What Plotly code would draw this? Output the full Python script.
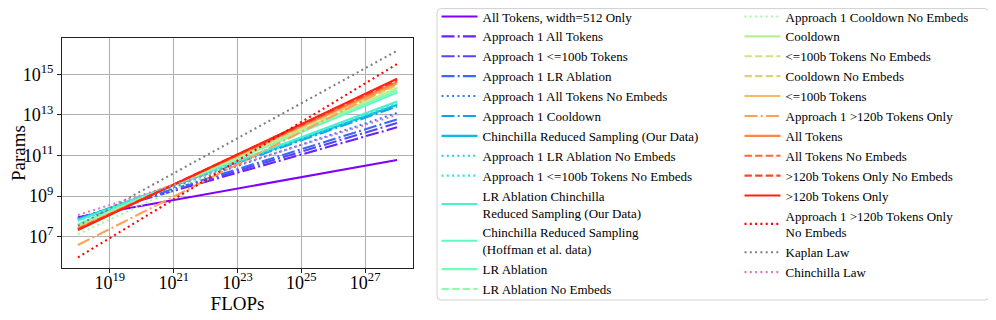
import numpy as np
import plotly.graph_objects as go

# FLOPs range spanned by every fitted line
flops = [1e18, 1e28]

names = [
    "All Tokens, width=512 Only",
    "Approach 1 All Tokens",
    "Approach 1 <=100b Tokens",
    "Approach 1 LR Ablation",
    "Approach 1 All Tokens No Embeds",
    "Approach 1 Cooldown",
    "Chinchilla Reduced Sampling (Our Data)",
    "Approach 1 LR Ablation No Embeds",
    "Approach 1 <=100b Tokens No Embeds",
    "LR Ablation Chinchilla<br>Reduced Sampling (Our Data)",
    "Chinchilla Reduced Sampling<br>(Hoffman et al. data)",
    "LR Ablation",
    "LR Ablation No Embeds",
    "Approach 1 Cooldown No Embeds",
    "Cooldown",
    "<=100b Tokens No Embeds",
    "Cooldown No Embeds",
    "<=100b Tokens",
    "Approach 1 >120b Tokens Only",
    "All Tokens",
    "All Tokens No Embeds",
    ">120b Tokens Only No Embeds",
    ">120b Tokens Only",
    "Approach 1 >120b Tokens Only<br>No Embeds",
    "Kaplan Law",
    "Chinchilla Law",
]

styles = [
    "solid", "dashdot", "dashdot", "dashdot", "dot", "dashdot", "solid", "dot",
    "dot", "solid", "solid", "solid", "dash", "dot", "solid", "dash", "dash",
    "solid", "dashdot", "solid", "dash", "dash", "solid", "dot", "dot", "dot",
]

# log10(params) at 1e18 and at 1e28 FLOPs
log_params_start = [
    7.96, 7.92, 7.90, 7.88, 7.88, 7.85, 7.85, 7.80, 7.82, 7.80, 7.62, 7.56, 7.50,
    7.13, 7.50, 7.46, 7.45, 7.42, 6.59, 7.40, 7.38, 7.36, 7.33, 5.98, 7.54, 8.07,
]
log_params_end = [
    10.78, 12.39, 12.60, 12.78, 13.10, 13.42, 13.50, 13.55, 13.58, 13.66, 14.10,
    14.20, 14.28, 14.35, 14.32, 14.45, 14.50, 14.55, 14.55, 14.62, 14.68, 14.73,
    14.78, 15.51, 16.16, 13.00,
]

x_ticks = [1e19, 1e21, 1e23, 1e25, 1e27]
x_labels = ["10<sup>19</sup>", "10<sup>21</sup>", "10<sup>23</sup>", "10<sup>25</sup>", "10<sup>27</sup>"]
y_ticks = [1e7, 1e9, 1e11, 1e13, 1e15]
y_labels = ["10<sup>7</sup>", "10<sup>9</sup>", "10<sup>11</sup>", "10<sup>13</sup>", "10<sup>15</sup>"]


def rainbow(t):
    r = min(1.0, abs(2 * t - 0.5))
    g = np.sin(np.pi * t)
    b = np.cos(np.pi * t / 2)
    return "rgb(%d,%d,%d)" % (round(r * 255), round(g * 255), round(b * 255))


n_rb = 24
colors = [rainbow(i / (n_rb - 1)) for i in range(n_rb)] + ["#808080", "#e377c2"]

dashes = {
    "solid": "solid",
    "dashdot": "13px,3.2px,2px,3.2px",
    "dot": "2px,3.3px",
    "dash": "7.4px,3.2px",
}

FONT = "Liberation Serif, Times New Roman, serif"

fig = go.Figure()
for i, name in enumerate(names):
    fig.add_trace(go.Scatter(
        x=flops,
        y=[10 ** log_params_start[i], 10 ** log_params_end[i]],
        mode="lines",
        name=name,
        line=dict(color=colors[i], width=2.1, dash=dashes[styles[i]]),
        legend="legend" if i < 13 else "legend2",
    ))

# the page body adds an 8px offset, so the figure is 8px smaller and
# screen positions below are shifted back by that amount
OFF = 8
W, H = 996 - OFF, 320 - OFF
ML, MR, MT, MB = 2, 2, 1, 2
PW, PH = W - ML - MR, H - MT - MB


def px_paper(px, py):
    return (px - OFF - ML) / PW, (H - MB - (py - OFF)) / PH


ax_x0, ax_y0 = px_paper(62, 268)
ax_x1, ax_y1 = px_paper(413, 38)

# legend frame with small rounded corners
bx0, by0 = px_paper(437, 300)
bx1, by1 = px_paper(989, 8.6)
rx, ry = 4 / PW, 4 / PH
frame = (
    f"M {bx0 + rx} {by0} L {bx1 - rx} {by0} Q {bx1} {by0} {bx1} {by0 + ry} "
    f"L {bx1} {by1 - ry} Q {bx1} {by1} {bx1 - rx} {by1} "
    f"L {bx0 + rx} {by1} Q {bx0} {by1} {bx0} {by1 - ry} "
    f"L {bx0} {by0 + ry} Q {bx0} {by0} {bx0 + rx} {by0} Z"
)
fig.add_shape(type="path", xref="paper", yref="paper", path=frame,
              line=dict(color="#d0d0d0", width=1), fillcolor="rgba(0,0,0,0)", layer="below")

legend_common = dict(
    xref="paper", yref="paper", xanchor="left", yanchor="top",
    bgcolor="rgba(0,0,0,0)", borderwidth=0, itemwidth=36, tracegroupgap=0,
    maxheight=400, font=dict(family=FONT, size=13, color="black"),
)
lg1_x, lg_y = px_paper(436.5, 1.5)
lg2_x, _ = px_paper(739.5, 1.5)

axis_common = dict(
    type="log", showgrid=True, gridcolor="#b0b0b0", gridwidth=1,
    showline=True, linecolor="#222222", linewidth=1, mirror=True,
    ticks="outside", ticklen=4, tickcolor="#222222",
    tickfont=dict(family=FONT, size=18, color="black"),
    zeroline=False, automargin=False,
)

fig.update_layout(
    width=W, height=H,
    margin=dict(l=ML, r=MR, t=MT, b=MB, autoexpand=False),
    paper_bgcolor="white", plot_bgcolor="white",
    font=dict(family=FONT, color="black"),
    legend=dict(x=lg1_x, y=lg_y, **legend_common),
    legend2=dict(x=lg2_x, y=lg_y, **legend_common),
    xaxis=dict(domain=[ax_x0, ax_x1], range=[17.5, 28.5], tickvals=x_ticks, ticktext=x_labels,
               ticklabelstandoff=-6,
               title=dict(text="FLOPs", font=dict(family=FONT, size=19), standoff=2),
               **axis_common),
    yaxis=dict(domain=[ax_y0, ax_y1], range=[5.46, 16.79], tickvals=y_ticks, ticktext=y_labels,
               title=dict(text="Params", font=dict(family=FONT, size=19), standoff=0),
               **axis_common),
)

fig.write_html("out.html")
